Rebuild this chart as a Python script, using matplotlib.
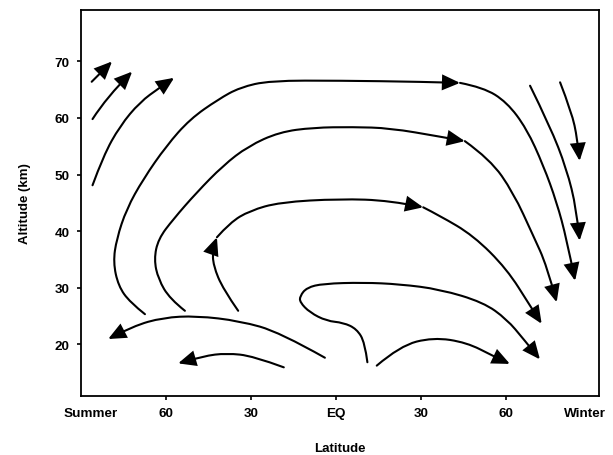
import numpy as np
import matplotlib
matplotlib.use("Agg")
import matplotlib.pyplot as plt
from matplotlib.path import Path
from matplotlib.patches import FancyArrowPatch

plt.rcParams['font.family'] = ['Liberation Sans', 'DejaVu Sans']
plt.rcParams['font.weight'] = 'bold'

# streamlines of the meridional circulation, (latitude, altitude km)
# negative latitude = summer hemisphere
summer_short = [(-86.2, 66.4), (-79.0, 70.0)]
summer_mid = [(-85.9, 59.8), (-80.9, 63.7), (-71.9, 68.2)]
summer_long = [(-85.9, 48.1), (-82.1, 53.3), (-76.2, 58.6), (-69.2, 62.8),
               (-62.1, 65.4), (-57.1, 67.1)]

outer_rise = [(-67.4, 25.3), (-72.7, 27.4), (-76.8, 30.3), (-78.6, 34.5),
              (-77.4, 38.6), (-73.9, 43.9), (-68.0, 49.2), (-59.8, 55.1),
              (-51.5, 59.8), (-41.5, 63.3), (-33.9, 65.4), (-23.3, 66.6),
              (1.4, 66.6), (30.0, 66.4), (43.8, 66.2)]
outer_sink = [(43.8, 66.2), (52.0, 65.4), (60.3, 62.8), (67.3, 58.1),
              (73.2, 51.6), (77.9, 45.1), (81.4, 38.6), (84.4, 31.2)]

second_rise = [(-53.3, 25.9), (-58.6, 28.0), (-62.7, 31.5), (-64.2, 35.0),
               (-62.7, 38.6), (-57.4, 42.1), (-49.2, 46.8), (-39.8, 51.6),
               (-31.0, 55.0), (-20.0, 57.5), (-8.0, 58.3), (6.0, 58.4),
               (19.1, 58.2), (36.7, 56.7), (45.5, 55.9)]
second_sink = [(45.5, 55.9), (54.4, 52.7), (62.6, 46.8), (69.6, 39.2),
               (74.4, 33.9), (77.9, 27.4)]

inner_rise = [(-34.5, 25.9), (-39.8, 29.7), (-43.3, 33.9), (-43.5, 36.8),
              (-42.0, 38.9)]
inner_top = [(-42.0, 38.9), (-37.4, 41.5), (-30.4, 43.6), (-19.8, 45.1),
             (1.4, 45.7), (19.1, 45.4), (30.8, 44.2)]
inner_sink = [(30.8, 44.2), (36.7, 42.7), (48.5, 39.2), (60.3, 33.3),
              (68.5, 26.8), (72.6, 23.6)]

loop_30km = [(11.1, 16.8), (10.2, 20.3), (7.3, 22.7), (2.6, 23.8),
             (-3.3, 24.1), (-9.2, 25.6), (-12.7, 27.4), (-12.7, 28.5),
             (-10.3, 30.0), (-4.5, 30.7), (9.6, 30.9), (22.6, 30.6),
             (36.7, 29.7), (52.0, 27.4), (60.3, 24.4), (66.2, 20.9),
             (72.0, 17.3)]

low_winter = [(14.4, 16.2), (22.6, 19.7), (34.3, 21.2), (46.1, 20.3),
              (55.5, 17.9), (61.4, 16.5)]
low_summer = [(-3.9, 17.6), (-19.8, 22.1), (-33.9, 24.1), (-49.2, 25.0),
              (-61.0, 24.7), (-71.6, 23.2), (-80.4, 20.9)]
lowest_summer = [(-18.4, 15.9), (-29.2, 17.9), (-38.6, 18.4), (-46.8, 17.9),
                 (-55.7, 16.6)]

winter_a = [(68.5, 65.7), (75.5, 58.6), (81.4, 51.0), (84.9, 43.9),
            (86.0, 38.3)]
winter_b = [(79.1, 66.3), (83.2, 61.0), (85.2, 56.3), (86.0, 52.4)]

lat_ticks = [-60, -30, 0, 30, 60]
lat_labels = ['60', '30', 'EQ', '30', '60']
alt_ticks = [20, 30, 40, 50, 60, 70]
pole_labels = [(-86.5, 'Summer'), (88.0, 'Winter')]


def smooth_path(pts):
    # quadratic b-spline style path: passes through ends, rounded in between
    pts = np.asarray(pts, dtype=float)
    if len(pts) < 3:
        return Path(pts)
    verts = [pts[0]]
    codes = [Path.MOVETO]
    for i in range(1, len(pts) - 1):
        end = (pts[i] + pts[i + 1]) / 2 if i < len(pts) - 2 else pts[-1]
        verts += [pts[i], end]
        codes += [Path.CURVE3, Path.CURVE3]
    return Path(verts, codes)


def stream(ax, pts, head=True):
    style = '-|>,head_length=0.95,head_width=0.42' if head else '-'
    patch = FancyArrowPatch(path=smooth_path(pts), arrowstyle=style,
                            mutation_scale=11, lw=1.5, color='black',
                            shrinkA=0, shrinkB=0, transform=ax.transData,
                            joinstyle='miter')
    ax.add_patch(patch)


fig = plt.figure(figsize=(6.13, 4.56), dpi=100)
ax = fig.add_axes([0.132, 0.129, 0.845, 0.847])
ax.set_xlim(-90, 92.8)
ax.set_ylim(10.8, 79.1)

for line in [summer_short, summer_mid, summer_long, outer_rise, outer_sink,
             second_rise, second_sink, inner_rise, inner_top, inner_sink,
             loop_30km, low_winter, low_summer, lowest_summer,
             winter_a, winter_b]:
    stream(ax, line)

ax.set_xticks(lat_ticks)
ax.set_xticklabels(lat_labels)
ax.set_yticks(alt_ticks)
ax.tick_params(axis='both', direction='out', length=3, width=1.2,
               labelsize=9.7, pad=5)
for lat, name in pole_labels:
    ax.annotate(name, xy=(lat, 0), xycoords=ax.get_xaxis_transform(),
                xytext=(0, -8), textcoords='offset points',
                ha='center', va='top', fontsize=9.7, fontweight='bold')
for s in ax.spines.values():
    s.set_linewidth(1.3)

ax.set_xlabel('Latitude', fontsize=9.5, fontweight='bold', labelpad=16)
ax.set_ylabel('Altitude (km)', fontsize=9.5, fontweight='bold', labelpad=17)

fig.savefig('out.png', dpi=100)
